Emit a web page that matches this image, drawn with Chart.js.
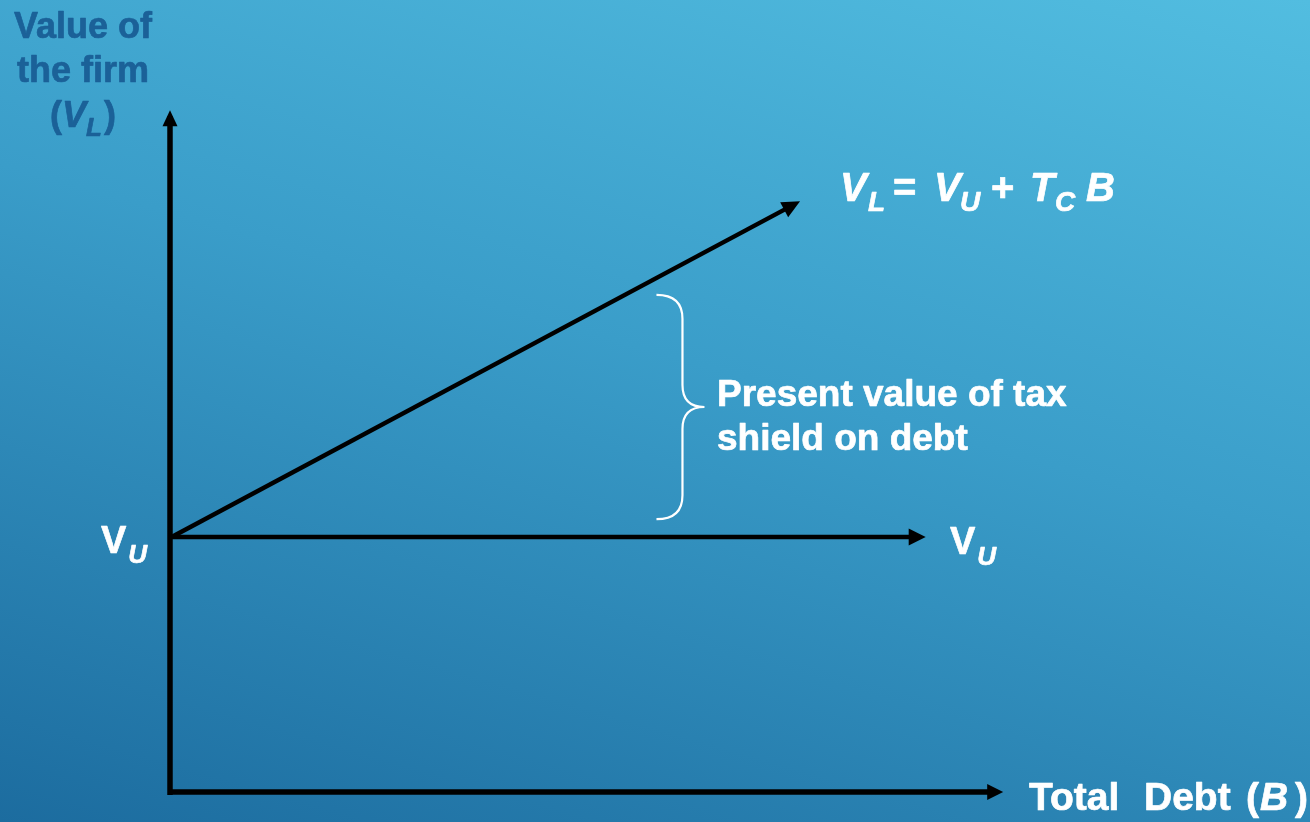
<!DOCTYPE html>
<html>
<head>
<meta charset="utf-8">
<script src="https://cdn.jsdelivr.net/npm/chart.js@4"></script>
<style>
  html, body { margin: 0; padding: 0; }
  body {
    width: 1310px; height: 822px; overflow: hidden;
    background: linear-gradient(196deg, #52bde0 0%, #3a9dc9 45%, #1c6c9f 100%);
  }
  canvas { display: block; }
</style>
</head>
<body>
<canvas id="chart" width="1310" height="822"></canvas>
<script>
// axis lines (arbitrary units, 0..100 on both axes)
const xAxisLine = [{ x: 0, y: 0 }, { x: 99.3, y: 0 }];
const yAxisLine = [{ x: 0, y: -0.45 }, { x: 0, y: 99.1 }];
// value of the unlevered firm, flat in debt
const unleveredLine = [{ x: 0.2, y: 37.4 }, { x: 90, y: 37.4 }];
// value of the levered firm, VL = VU + Tc B
const leveredLine = [{ x: 0.2, y: 37.4 }, { x: 75, y: 86.2 }];
// brace marking the tax shield gap (x, top y, bottom y)
const braceSpan = { x: 58.4, top: 72.9, bottom: 40.0 };

const FONT = "'Liberation Sans', Arial, sans-serif";

// draw text pieces one after another; x overrides the running position
function drawRuns(ctx, x, y, runs) {
    let cx = x;
    for (const r of runs) {
        ctx.font = r.font;
        if (r.x !== undefined) cx = r.x;
        cx += r.dx || 0;
        ctx.fillText(r.t, cx, y + (r.dy || 0));
        ctx.strokeText(r.t, cx, y + (r.dy || 0));
        cx += ctx.measureText(r.t).width;
    }
}

const arrowPlugin = {
    id: 'arrows',
    afterDatasetsDraw(chart) {
        const ctx = chart.ctx;
        chart.data.datasets.forEach((ds, i) => {
            if (!ds.arrow) return;
            const pts = chart.getDatasetMeta(i).data;
            const a = pts[pts.length - 2], b = pts[pts.length - 1];
            const dx = b.x - a.x, dy = b.y - a.y;
            const len = Math.hypot(dx, dy);
            const ux = dx / len, uy = dy / len;
            const tipX = b.x + ux * 6, tipY = b.y + uy * 6;
            const L = ds.arrow.len, W = ds.arrow.width / 2;
            ctx.save();
            ctx.fillStyle = '#000';
            ctx.beginPath();
            ctx.moveTo(tipX, tipY);
            ctx.lineTo(tipX - ux * L - uy * W, tipY - uy * L + ux * W);
            ctx.lineTo(tipX - ux * L + uy * W, tipY - uy * L - ux * W);
            ctx.closePath();
            ctx.fill();
            ctx.restore();
        });
    }
};

const labelPlugin = {
    id: 'labels',
    afterDraw(chart) {
        const ctx = chart.ctx;
        const xs = chart.scales.x, ys = chart.scales.y;

        // brace
        const bx = xs.getPixelForValue(braceSpan.x);
        const top = ys.getPixelForValue(braceSpan.top);
        const bot = ys.getPixelForValue(braceSpan.bottom);
        const mid = (top + bot) / 2;
        const vx = bx + 26, tx = bx + 48;
        ctx.save();
        ctx.strokeStyle = '#fff';
        ctx.lineWidth = 2.2;
        ctx.beginPath();
        ctx.moveTo(bx, top);
        ctx.quadraticCurveTo(vx, top, vx, top + 24);
        ctx.lineTo(vx, mid - 22);
        ctx.quadraticCurveTo(vx, mid, tx, mid);
        ctx.quadraticCurveTo(vx, mid, vx, mid + 22);
        ctx.lineTo(vx, bot - 24);
        ctx.quadraticCurveTo(vx, bot, bx, bot);
        ctx.stroke();

        ctx.textBaseline = 'alphabetic';
        ctx.textAlign = 'left';
        ctx.lineWidth = 0.7;
        ctx.lineJoin = 'round';

        // y axis title
        ctx.fillStyle = ctx.strokeStyle = '#1b6198';
        drawRuns(ctx, 14, 38, [{ t: 'Value of', font: 'bold 36px ' + FONT }]);
        drawRuns(ctx, 17, 82, [{ t: 'the firm', font: 'bold 36px ' + FONT }]);
        drawRuns(ctx, 50, 127, [
            { t: '(', font: 'bold 36px ' + FONT },
            { t: 'V', font: 'italic bold 36px ' + FONT },
            { t: 'L', font: 'italic bold 26px ' + FONT, dy: 9 },
            { t: ')', font: 'bold 36px ' + FONT, dx: 2 }
        ]);

        ctx.fillStyle = ctx.strokeStyle = '#fff';
        // equation
        const big = 'italic bold 40px ' + FONT, sub = 'italic bold 28px ' + FONT;
        drawRuns(ctx, 842, 201, [
            { t: 'V', font: big, x: 840 },
            { t: 'L', font: sub, dy: 10, x: 868 },
            { t: '=', font: 'bold 40px ' + FONT, x: 893 },
            { t: 'V', font: big, x: 934 },
            { t: 'U', font: sub, dy: 10, x: 960 },
            { t: '+', font: 'bold 40px ' + FONT, x: 991 },
            { t: 'T', font: big, x: 1030 },
            { t: 'C', font: sub, dy: 10, x: 1055 },
            { t: 'B', font: big, x: 1086 }
        ]);

        // tax shield note
        drawRuns(ctx, 717, 406, [{ t: 'Present value of tax', font: 'bold 37px ' + FONT }]);
        drawRuns(ctx, 717, 450, [{ t: 'shield on debt', font: 'bold 37px ' + FONT }]);

        // VU labels
        drawRuns(ctx, 101, 553, [
            { t: 'V', font: 'bold 38px ' + FONT },
            { t: 'U', font: 'italic bold 26px ' + FONT, dy: 10, dx: 2 }
        ]);
        drawRuns(ctx, 950, 554, [
            { t: 'V', font: 'bold 38px ' + FONT },
            { t: 'U', font: 'italic bold 26px ' + FONT, dy: 11, dx: 2 }
        ]);

        // x axis title
        const xf = 'bold 39px ' + FONT;
        drawRuns(ctx, 1030, 810, [
            { t: 'Total', font: xf, x: 1029 },
            { t: 'Debt', font: xf, x: 1144 },
            { t: '(', font: xf, x: 1246 },
            { t: 'B', font: 'italic bold 39px ' + FONT, x: 1260 },
            { t: ')', font: xf, x: 1295 }
        ]);
        ctx.restore();
    }
};

new Chart(document.getElementById('chart'), {
    type: 'scatter',
    data: {
        datasets: [
            { data: xAxisLine, borderWidth: 5.5, arrow: { len: 16, width: 16 } },
            { data: yAxisLine, borderWidth: 5.5, arrow: { len: 16, width: 15 } },
            { data: unleveredLine, borderWidth: 4.5, arrow: { len: 17, width: 17 } },
            { data: leveredLine, borderWidth: 4.5, arrow: { len: 18, width: 17 } }
        ].map(ds => Object.assign(ds, {
            showLine: true,
            borderColor: '#000',
            pointRadius: 0,
            pointHoverRadius: 0,
            borderCapStyle: 'butt',
            clip: false
        }))
    },
    options: {
        responsive: false,
        animation: false,
        layout: { padding: { left: 170, right: 307, top: 110, bottom: 30 } },
        plugins: { legend: { display: false }, tooltip: { enabled: false } },
        scales: {
            x: { type: 'linear', display: false, min: 0, max: 100 },
            y: { type: 'linear', display: false, min: 0, max: 100 }
        }
    },
    plugins: [arrowPlugin, labelPlugin]
});
</script>
</body>
</html>
